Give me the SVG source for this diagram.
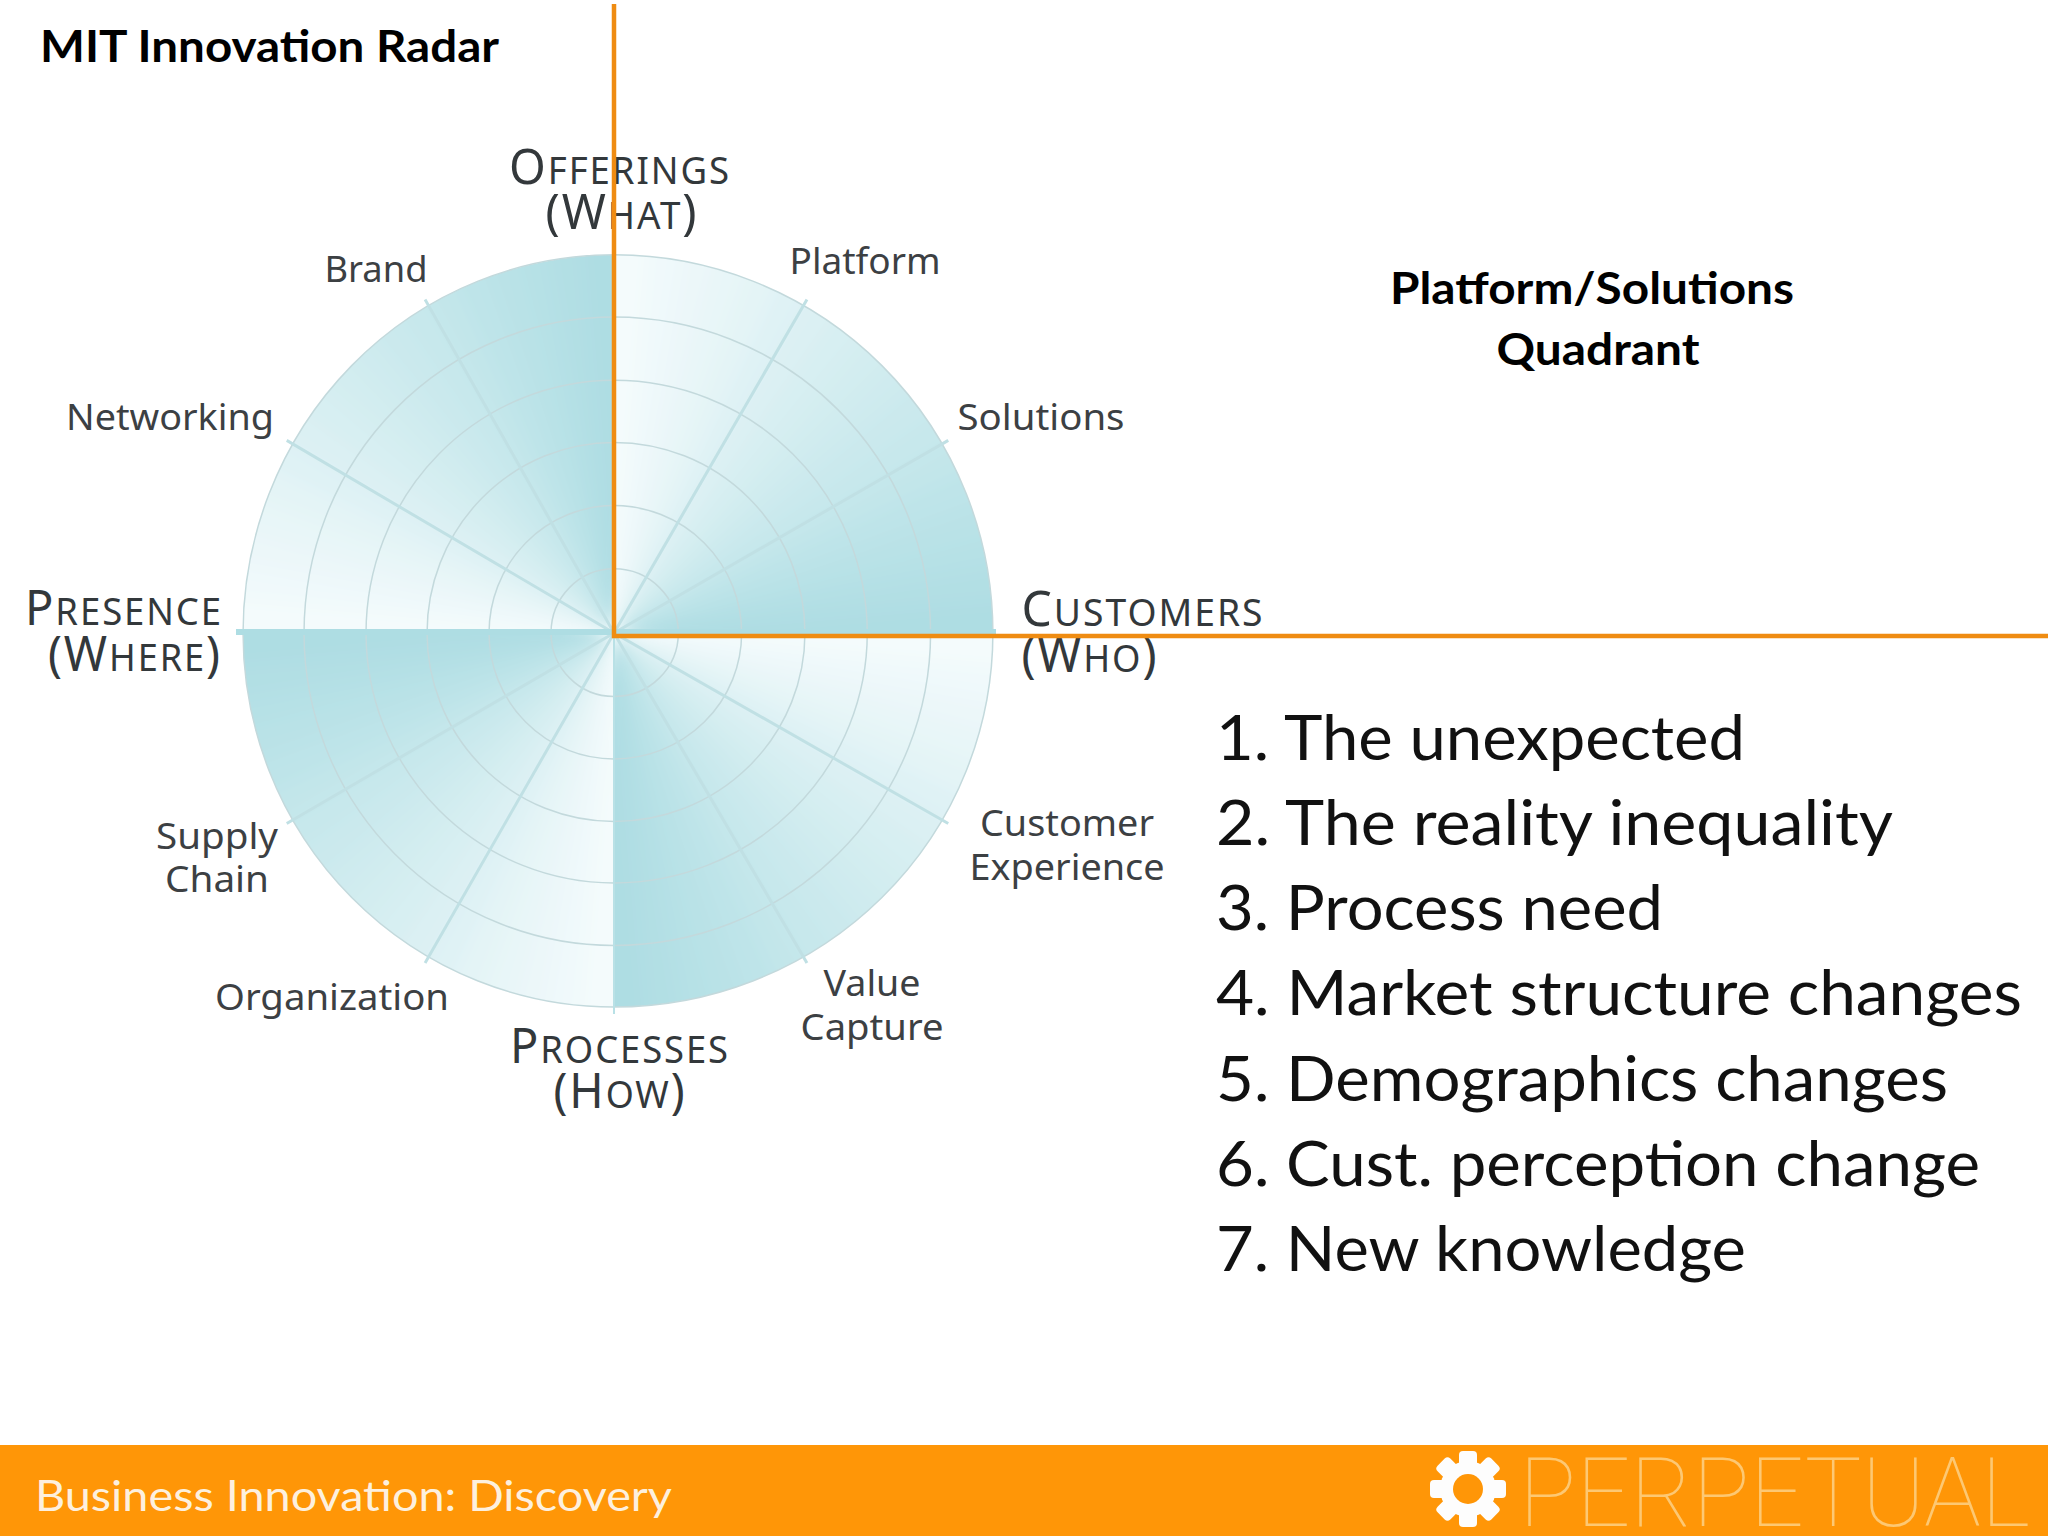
<svg xmlns="http://www.w3.org/2000/svg" width="2048" height="1536" viewBox="0 0 2048 1536">
<style>
.s0{fill:#f4fbfc}.s1{fill:#f0f9fb}.s2{fill:#ecf7f9}.s3{fill:#e8f6f8}.s4{fill:#e4f4f6}.s5{fill:#dff2f5}.s6{fill:#dbf0f3}.s7{fill:#d7eff2}.s8{fill:#d3edf0}.s9{fill:#cfebef}.s10{fill:#cbe9ed}.s11{fill:#c7e8ec}.s12{fill:#c3e6ea}.s13{fill:#bee4e9}.s14{fill:#bae2e7}.s15{fill:#b6e1e6}.s16{fill:#b2dfe4}.s17{fill:#aedde3}
.ring{fill:none;stroke:#c3d9dc;stroke-width:1.5}
.spoke{stroke:#c0e0e4;stroke-width:3}
.axis{stroke:#aedde3;stroke-width:6}
.orange{stroke:#ef8c12;stroke-width:4.5;fill:none}
.lab{font-family:"Noto Sans","DejaVu Sans",sans-serif;font-size:36px;fill:#3c4043;text-anchor:middle}
.cap{font-family:"Noto Sans","DejaVu Sans",sans-serif;font-size:38px;fill:#33383b;text-anchor:middle;letter-spacing:2px}
.cap .b{font-size:49px}
.head{font-family:"Lato","Open Sans",sans-serif;font-weight:700;font-size:44px;fill:#000}
.list{font-family:"Lato","Open Sans",sans-serif;font-size:62px;fill:#111}
.foot{font-family:"Lato","Open Sans",sans-serif;font-size:43px;fill:#fdf0de}
.logo{font-family:"Roboto","Liberation Sans",sans-serif;font-weight:100;font-size:96px;fill:#fdc873}
</style>
<defs>
<path id="w" d="M0 0L420 0A420 420 0 0 1 413.6 72.9Z"/>
<filter id="soft" filterUnits="userSpaceOnUse" x="-60" y="-60" width="520" height="520"><feGaussianBlur stdDeviation="9"/></filter>
<clipPath id="qc"><path d="M0 0H377A377 377 0 0 1 0 377Z"/></clipPath>
<clipPath id="qr"><rect x="0" y="0" width="400" height="400"/></clipPath>
<g id="q" clip-path="url(#qr)">
<g clip-path="url(#qc)"><g filter="url(#soft)">
<use href="#w" class="s0" transform="rotate(-15)"/>
<use href="#w" class="s0" transform="rotate(-5)"/>
<use href="#w" class="s0" transform="rotate(0)"/>
<use href="#w" class="s1" transform="rotate(5)"/>
<use href="#w" class="s2" transform="rotate(10)"/>
<use href="#w" class="s3" transform="rotate(15)"/>
<use href="#w" class="s4" transform="rotate(20)"/>
<use href="#w" class="s5" transform="rotate(25)"/>
<use href="#w" class="s6" transform="rotate(30)"/>
<use href="#w" class="s7" transform="rotate(35)"/>
<use href="#w" class="s8" transform="rotate(40)"/>
<use href="#w" class="s9" transform="rotate(45)"/>
<use href="#w" class="s10" transform="rotate(50)"/>
<use href="#w" class="s11" transform="rotate(55)"/>
<use href="#w" class="s12" transform="rotate(60)"/>
<use href="#w" class="s13" transform="rotate(65)"/>
<use href="#w" class="s14" transform="rotate(70)"/>
<use href="#w" class="s15" transform="rotate(75)"/>
<use href="#w" class="s16" transform="rotate(80)"/>
<use href="#w" class="s17" transform="rotate(85)"/>
<use href="#w" class="s17" transform="rotate(95)"/>
</g></g>
<circle class="ring" r="377"/><circle class="ring" r="315"/><circle class="ring" r="252"/><circle class="ring" r="190"/><circle class="ring" r="127"/><circle class="ring" r="64"/>
<line class="spoke" x1="0" y1="0" x2="332.6" y2="192"/>
<line class="spoke" x1="0" y1="0" x2="192" y2="332.6"/>
</g>
<rect id="tooth" x="-9" y="-38" width="18" height="20" rx="4" fill="#fdfdfd"/>
</defs>
<rect width="2048" height="1536" fill="#fff"/>
<g id="radar">
<use href="#q" transform="translate(614 633) scale(1.005 1.003) rotate(-90)"/>
<use href="#q" transform="translate(614 633) scale(1.005 .992) rotate(0)"/>
<use href="#q" transform="translate(614 633) scale(.984 .992) rotate(90)"/>
<use href="#q" transform="translate(614 633) scale(.984 1.003) rotate(180)"/>
<line class="axis" x1="236" y1="632" x2="996" y2="632"/>
<line x1="614" y1="633" x2="614" y2="1014" stroke="#b9e1e6" stroke-width="2"/>
</g>
<g id="labels">
<text class="lab" x="376" y="282" textLength="103" lengthAdjust="spacingAndGlyphs">Brand</text>
<text class="lab" x="865" y="274" textLength="151" lengthAdjust="spacingAndGlyphs">Platform</text>
<text class="lab" x="170" y="430" textLength="208" lengthAdjust="spacingAndGlyphs">Networking</text>
<text class="lab" x="1041" y="430" textLength="167" lengthAdjust="spacingAndGlyphs">Solutions</text>
<text class="lab" x="217" y="849" textLength="122" lengthAdjust="spacingAndGlyphs">Supply</text>
<text class="lab" x="217" y="892" textLength="104" lengthAdjust="spacingAndGlyphs">Chain</text>
<text class="lab" x="1067" y="836" textLength="174" lengthAdjust="spacingAndGlyphs">Customer</text>
<text class="lab" x="1067" y="880" textLength="195" lengthAdjust="spacingAndGlyphs">Experience</text>
<text class="lab" x="332" y="1010" textLength="234" lengthAdjust="spacingAndGlyphs">Organization</text>
<text class="lab" x="872" y="996" textLength="97" lengthAdjust="spacingAndGlyphs">Value</text>
<text class="lab" x="872" y="1040" textLength="143" lengthAdjust="spacingAndGlyphs">Capture</text>
<text class="cap" x="620" y="184" textLength="222" lengthAdjust="spacingAndGlyphs"><tspan class="b">O</tspan>FFERINGS</text>
<text class="cap" x="622" y="229" textLength="153" lengthAdjust="spacingAndGlyphs"><tspan class="b">(W</tspan>HAT<tspan class="b">)</tspan></text>
<text class="cap" x="124" y="625" textLength="198" lengthAdjust="spacingAndGlyphs"><tspan class="b">P</tspan>RESENCE</text>
<text class="cap" x="135" y="671" textLength="174" lengthAdjust="spacingAndGlyphs"><tspan class="b">(W</tspan>HERE<tspan class="b">)</tspan></text>
<text class="cap" x="1143" y="626" textLength="243" lengthAdjust="spacingAndGlyphs"><tspan class="b">C</tspan>USTOMERS</text>
<text class="cap" x="1090" y="672" textLength="137" lengthAdjust="spacingAndGlyphs"><tspan class="b">(W</tspan>HO<tspan class="b">)</tspan></text>
<text class="cap" x="620" y="1063" textLength="220" lengthAdjust="spacingAndGlyphs"><tspan class="b">P</tspan>ROCESSES</text>
<text class="cap" x="620" y="1108" textLength="133" lengthAdjust="spacingAndGlyphs"><tspan class="b">(H</tspan>OW<tspan class="b">)</tspan></text>
</g>
<g id="quadrant-lines">
<path class="orange" d="M614 4V636H2048"/>
</g>
<text class="head" x="40" y="62" textLength="459" lengthAdjust="spacingAndGlyphs">MIT Innovation Radar</text>
<g id="quadrant-title">
<text class="head" x="1592" y="304" text-anchor="middle" textLength="404" lengthAdjust="spacingAndGlyphs">Platform/Solutions</text>
<text class="head" x="1598" y="365" text-anchor="middle" textLength="203" lengthAdjust="spacingAndGlyphs">Quadrant</text>
</g>
<g id="list">
<text class="list" x="1216" y="760" textLength="529" lengthAdjust="spacingAndGlyphs">1. The unexpected</text>
<text class="list" x="1216" y="845" textLength="677" lengthAdjust="spacingAndGlyphs">2. The reality inequality</text>
<text class="list" x="1216" y="930" textLength="447" lengthAdjust="spacingAndGlyphs">3. Process need</text>
<text class="list" x="1216" y="1015" textLength="806" lengthAdjust="spacingAndGlyphs">4. Market structure changes</text>
<text class="list" x="1216" y="1101" textLength="732" lengthAdjust="spacingAndGlyphs">5. Demographics changes</text>
<text class="list" x="1216" y="1186" textLength="764" lengthAdjust="spacingAndGlyphs">6. Cust. perception change</text>
<text class="list" x="1216" y="1271" textLength="530" lengthAdjust="spacingAndGlyphs">7. New knowledge</text>
</g>
<g id="footer">
<rect x="0" y="1445" width="2048" height="91" fill="#ff9607"/>
<text class="foot" x="35" y="1511" textLength="637" lengthAdjust="spacingAndGlyphs">Business Innovation: Discovery</text>
<g id="gear" transform="translate(1468 1489)">
<circle r="28" fill="#fdfdfd"/>
<use href="#tooth"/><use href="#tooth" transform="rotate(45)"/><use href="#tooth" transform="rotate(90)"/><use href="#tooth" transform="rotate(135)"/><use href="#tooth" transform="rotate(180)"/><use href="#tooth" transform="rotate(225)"/><use href="#tooth" transform="rotate(270)"/><use href="#tooth" transform="rotate(315)"/>
<circle r="15" fill="#ff9607"/>
</g>
<text class="logo" x="1519" y="1526" textLength="511" lengthAdjust="spacingAndGlyphs">PERPETUAL</text>
</g>
</svg>
